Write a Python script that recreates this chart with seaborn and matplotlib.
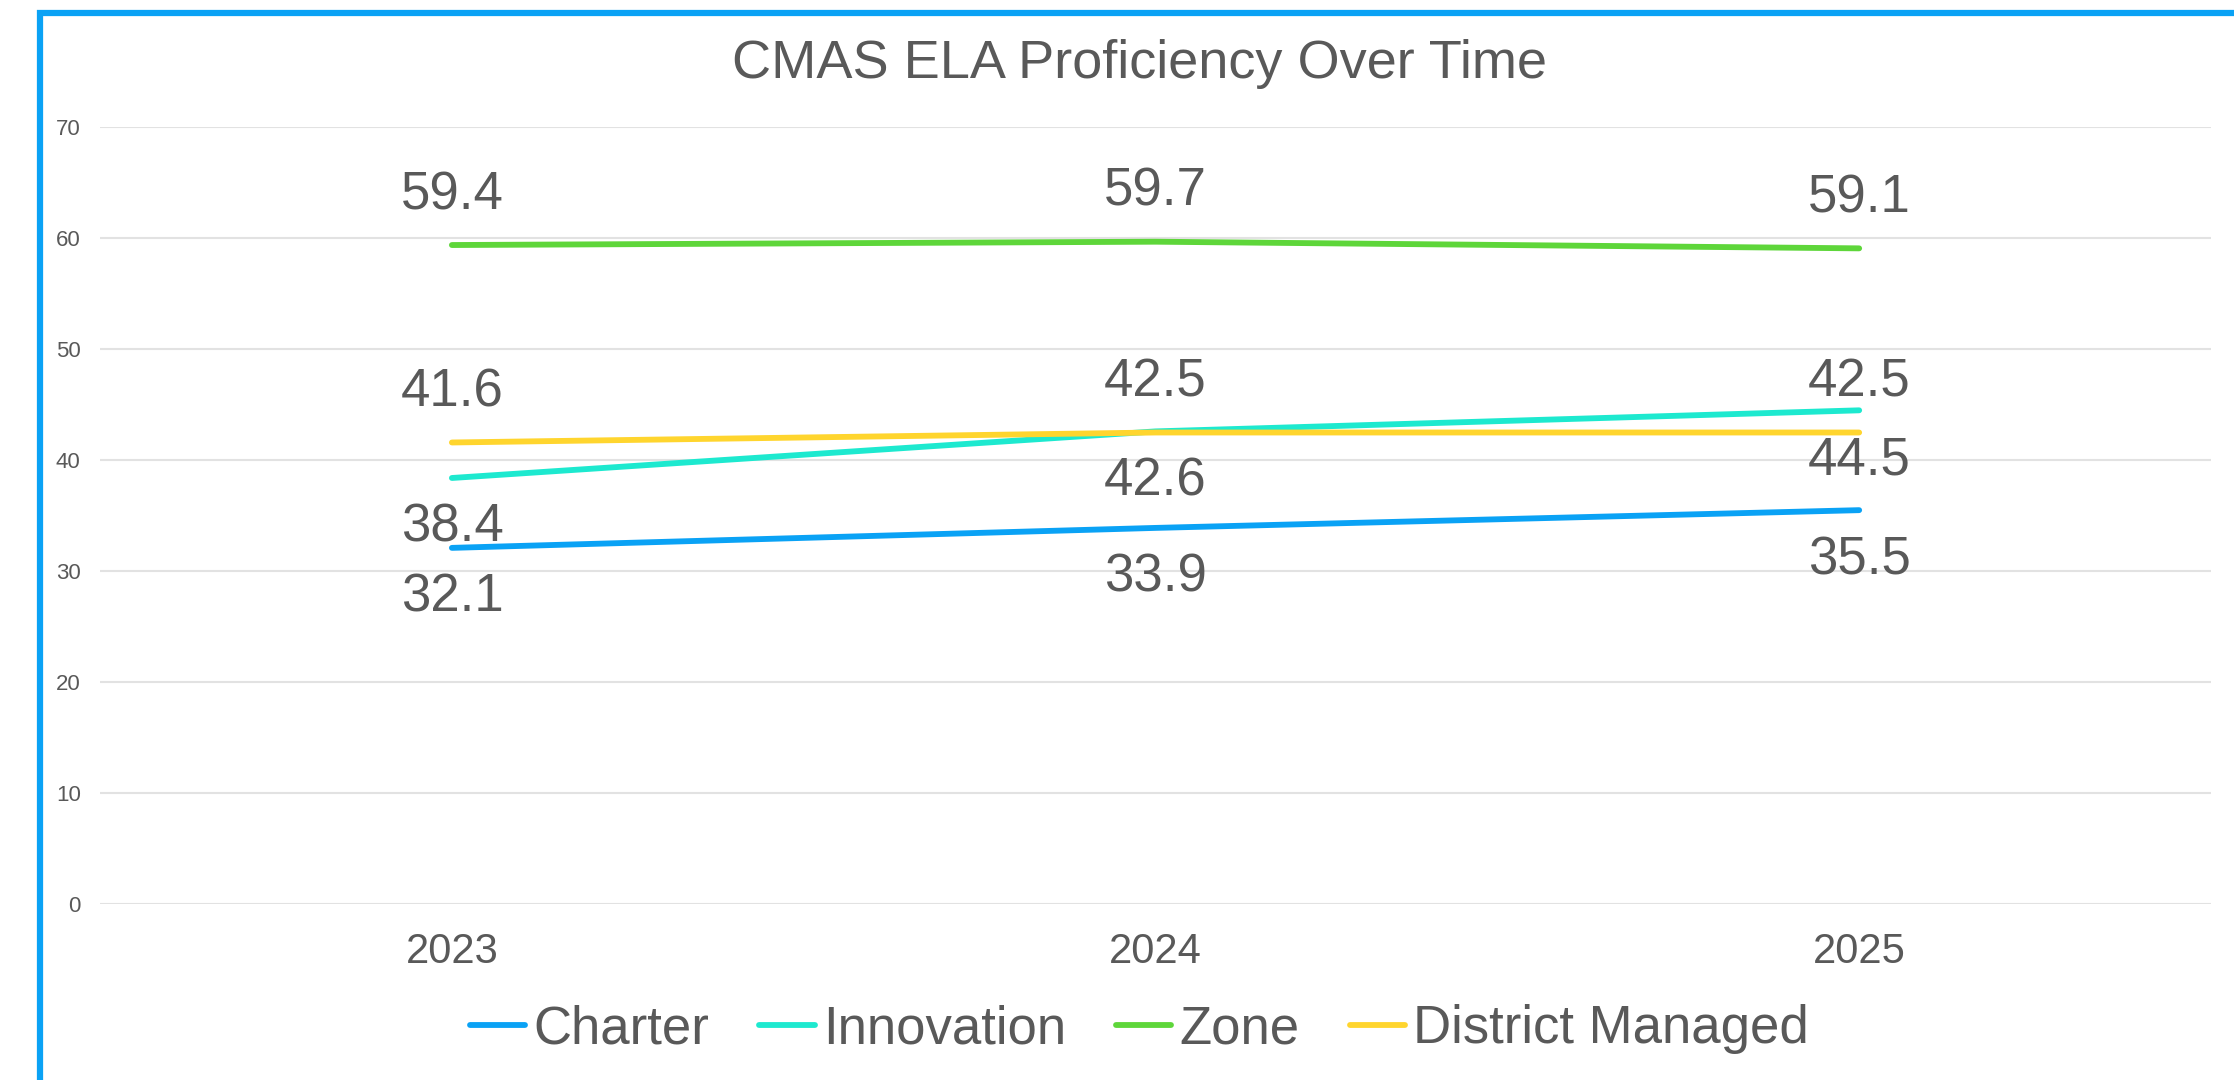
import pandas as pd
import matplotlib.pyplot as plt
import seaborn as sns
from matplotlib.patches import Rectangle

# --------------------------
# data
# --------------------------
years = ["2023", "2024", "2025"]
groups = ["Charter", "Innovation", "Zone", "District Managed"]
charter = [32.1, 33.9, 35.5]
innovation = [38.4, 42.6, 44.5]
zone = [59.4, 59.7, 59.1]
district = [41.6, 42.5, 42.5]
colors = ["#0AA2F5", "#1DE9CF", "#5ED63A", "#FFD52E"]
label_side = [-1, -1, 1, 1]   # below / above the line

sns.set_theme(style="white")
plt.rcParams['font.family'] = ['Liberation Sans', 'DejaVu Sans']
TXT = "#595959"

df = pd.DataFrame({
    "year": years * 4,
    "group": [g for g in groups for _ in years],
    "value": charter + innovation + zone + district,
})

fig = plt.figure(figsize=(22.34, 10.8), dpi=100)
ax = fig.add_axes([0.0448, 0.163, 0.9449, 0.719])

sns.lineplot(data=df, x="year", y="value", hue="group", hue_order=groups,
             palette=colors, linewidth=4.2, ax=ax, sort=False,
             solid_capstyle="round")

# data labels
for g, side in zip(groups, label_side):
    vals = df[df.group == g]["value"].tolist()
    for i, v in enumerate(vals):
        ax.annotate(f"{v:.1f}", xy=(i, v), xytext=(0, 36 * side),
                    textcoords="offset points", ha="center", va="center",
                    fontsize=38, color=TXT)

ax.set_xlim(-0.5, 2.5)
ax.set_ylim(0, 70)
ax.set_yticks(range(0, 71, 10))
ax.grid(axis="y", color="#E2E2E2", linewidth=1.5)
ax.grid(axis="x", visible=False)
for s in ax.spines.values():
    s.set_visible(False)
ax.set_xlabel("")
ax.set_ylabel("")
ax.tick_params(axis="y", labelsize=16, labelcolor=TXT, length=0, pad=14)
ax.tick_params(axis="x", labelsize=30, labelcolor=TXT, length=0, pad=20)

ax.get_legend().remove()
handles, labels = ax.get_legend_handles_labels()
for h in handles:
    h.set_solid_capstyle("round")
fig.legend(handles, labels, loc="center", bbox_to_anchor=(0.51, 0.047),
           ncol=4, frameon=False, fontsize=38, labelcolor=TXT,
           handlelength=1.05, handletextpad=0.15, columnspacing=0.95)

fig.text(0.51, 1 - 64 / 1080, "CMAS ELA Proficiency Over Time",
         ha="center", va="center", fontsize=39, color=TXT)

# blue frame running off the right and bottom edge
fig.patches.append(Rectangle((40 / 2234, -0.1), 1.2, 1.1 - 13 / 1080,
                             transform=fig.transFigure, fill=False,
                             edgecolor="#0AA2F5", linewidth=4.5))

fig.savefig("out.png", dpi=100)
